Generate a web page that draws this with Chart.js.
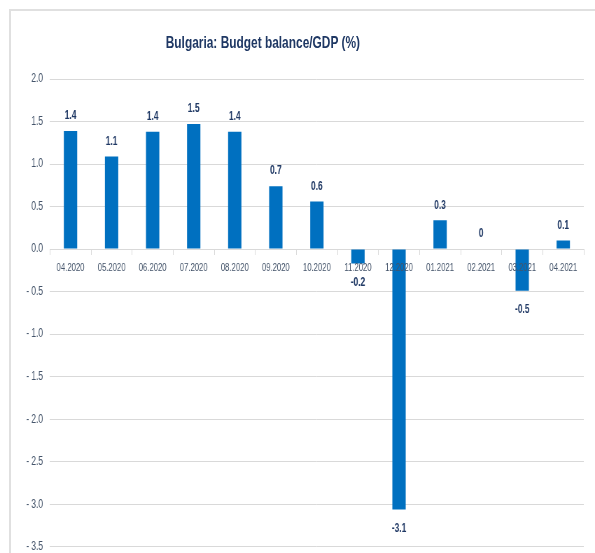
<!DOCTYPE html>
<html>
<head>
<meta charset="utf-8">
<script src="https://cdn.jsdelivr.net/npm/chart.js@4.4.1/dist/chart.umd.min.js"></script>
<style>
  html, body { margin: 0; padding: 0; background: #fff; overflow: hidden; }
  #page { position: relative; width: 595px; height: 553px; overflow: hidden; }
  /* рамка диаграммы: видны только левый и верхний край */
  #frame { position: absolute; left: 9px; top: 9px; width: 700px; height: 700px;
           border-left: 2px solid #e0e0e0; border-top: 2px solid #e0e0e0; }
  /* всё содержимое рисуем шире и сжимаем по горизонтали, как в оригинале */
  #wrap { position: absolute; left: 0; top: 0; width: 850px; height: 564px;
          transform: scaleX(0.7); transform-origin: 0 0; }
  #title { position: absolute; left: 0; top: 33px; width: 751px; text-align: center;
           font: bold 17px "Liberation Sans", Arial, sans-serif; line-height: 20px; color: #1f3864; }
  canvas { position: absolute; left: 0; top: 0; }
</style>
</head>
<body>
<div id="page">
  <div id="frame"></div>
  <div id="wrap">
    <div id="title">Bulgaria: Budget balance/GDP (%)</div>
    <canvas id="chart" width="850" height="564"></canvas>
  </div>
</div>
<script>
// месяцы
const months = ['04.2020', '05.2020', '06.2020', '07.2020', '08.2020', '09.2020', '10.2020',
                '11.2020', '12.2020', '01.2021', '02.2021', '03.2021', '04.2021'];
// баланс бюджета, % ВВП
const balance = [1.39, 1.09, 1.38, 1.47, 1.38, 0.74, 0.56, -0.17, -3.06, 0.34, 0, -0.49, 0.1];
// подписи над столбцами
const valueLabels = ['1.4', '1.1', '1.4', '1.5', '1.4', '0.7', '0.6', '-0.2', '-3.1', '0.3', '0', '-0.5', '0.1'];
// деления оси Y
const yTicks = [2.0, 1.5, 1.0, 0.5, 0.0, -0.5, -1.0, -1.5, -2.0, -2.5, -3.0, -3.5];

const FONT = '"Liberation Sans", Arial, sans-serif';
const NAVY = '#1f3864';
const GRID = '#d9d9d9';
const TICK_COLOR = '#44546a';

Chart.defaults.font.family = FONT;

/**
 * подписи значений у столбцов
 */
const valueLabelPlugin = {
  id: 'valueLabels',
  afterDatasetsDraw(chart) {
    const ctx = chart.ctx;
    const meta = chart.getDatasetMeta(0);
    ctx.save();
    ctx.font = 'bold 12px ' + FONT;
    ctx.fillStyle = NAVY;
    ctx.textAlign = 'center';
    ctx.textBaseline = 'middle';
    meta.data.forEach(function(bar, i) {
      const v = balance[i];
      const y = v < 0 ? bar.y + 19 : bar.y - 15;
      ctx.fillText(valueLabels[i], bar.x, y);
    });
    ctx.restore();
  }
};

new Chart(document.getElementById('chart'), {
  type: 'bar',
  data: {
    labels: months,
    datasets: [{
      data: balance,
      backgroundColor: '#0070c0',
      borderWidth: 0,
      barPercentage: 0.325,
      categoryPercentage: 1
    }]
  },
  options: {
    responsive: false,
    animation: false,
    layout: {
      padding: { left: 0, right: 16, top: 79, bottom: 7 }
    },
    scales: {
      x: {
        position: { y: 0 },
        grid: {
          offset: true,
          drawOnChartArea: false,
          drawTicks: true,
          tickLength: 5,
          color: GRID
        },
        border: { display: true, color: GRID, width: 1 },
        ticks: {
          z: 1, // подписи месяцев поверх столбцов
          padding: 7,
          color: TICK_COLOR,
          font: { size: 11 },
          maxRotation: 0,
          autoSkip: false
        }
      },
      y: {
        min: -3.5,
        max: 2.0,
        afterFit: function(scale) { scale.width = 71.4; },
        afterBuildTicks: function(scale) {
          scale.ticks = yTicks.map(v => ({ value: v }));
        },
        grid: { color: GRID, drawTicks: false, lineWidth: 1 },
        border: { display: false },
        ticks: {
          padding: 10,
          color: TICK_COLOR,
          font: { size: 12 },
          callback: function(v) {
            return v < 0 ? '- ' + Math.abs(v).toFixed(1) : v.toFixed(1);
          }
        }
      }
    },
    plugins: {
      legend: { display: false },
      tooltip: { enabled: false }
    }
  },
  plugins: [valueLabelPlugin]
});
</script>
</body>
</html>
